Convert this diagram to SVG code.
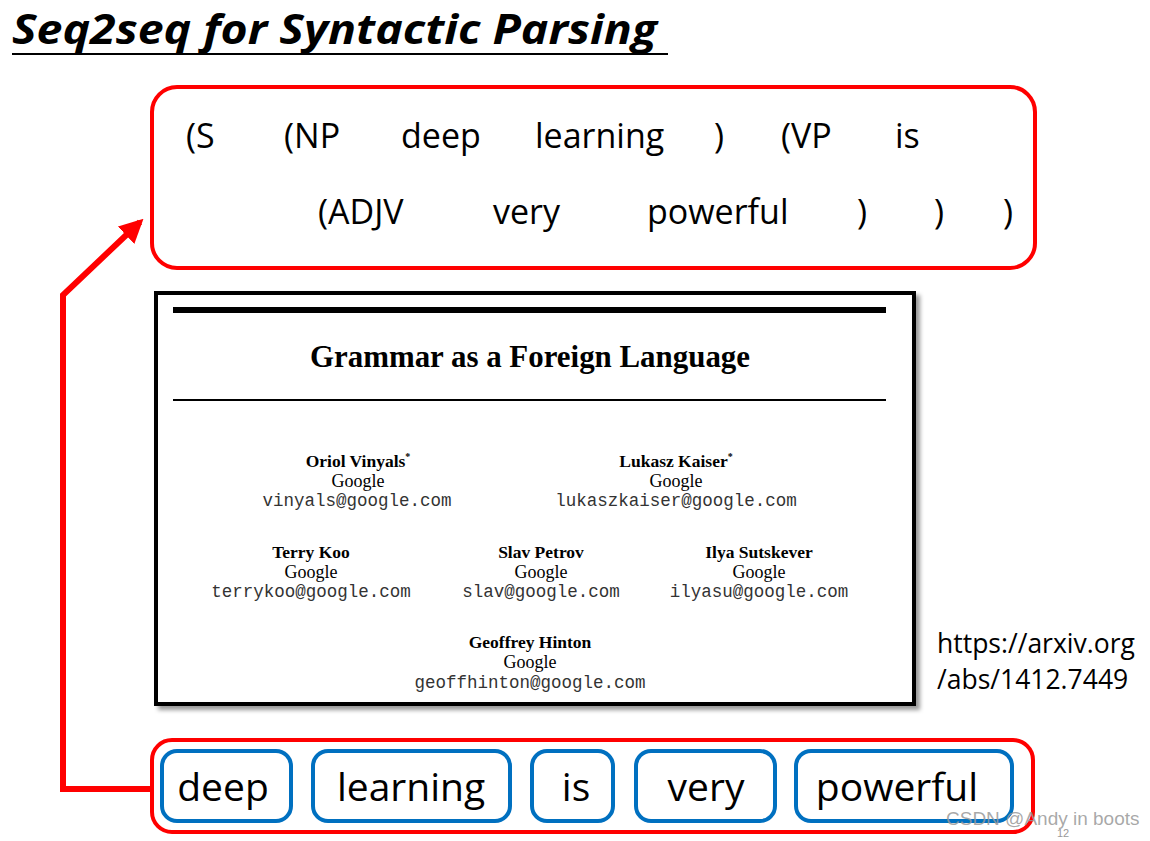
<svg xmlns="http://www.w3.org/2000/svg" width="1150" height="841" viewBox="0 0 1150 841">
<style>
.big{font-family:"Open Sans","Noto Sans",sans-serif;font-size:34px;fill:#000}
.word{font-family:"Open Sans","Noto Sans",sans-serif;font-size:39px;fill:#000}
.nm{font-family:"Liberation Serif",serif;font-size:17.5px;font-weight:bold;fill:#000;text-anchor:middle}
.gg{font-family:"Liberation Serif",serif;font-size:18px;fill:#000;text-anchor:middle}
.em{font-family:"Liberation Mono",monospace;font-size:17.5px;fill:#333;text-anchor:middle}
.wb{fill:#fff;stroke:#0070C0;stroke-width:4}
.rb{fill:#fff;stroke:#FF0000;stroke-width:4}
</style>
<defs>
<marker id="ah" viewBox="0 0 10 10" refX="8" refY="5" markerWidth="4" markerHeight="4" orient="auto" markerUnits="strokeWidth">
<path d="M0,0 L10,5 L0,10 z" fill="#FF0000"/>
</marker>
<filter id="sh" x="-5%" y="-5%" width="110%" height="110%">
<feDropShadow dx="4" dy="4" stdDeviation="2" flood-color="#000" flood-opacity="0.4"/>
</filter>
</defs>
<rect width="1150" height="841" fill="#fff"/>
<g id="title">
<text x="12" y="44" font-family="Open Sans,Noto Sans,sans-serif" font-size="42" font-weight="bold" font-style="italic" fill="#000" textLength="645" lengthAdjust="spacingAndGlyphs">Seq2seq for Syntactic Parsing</text>
<line x1="12" y1="54" x2="668" y2="54" stroke="#000" stroke-width="2"/>
</g>
<g id="connectors">
<polyline points="153,789 63,789 63,295 140,222" fill="none" stroke="#FF0000" stroke-width="6" marker-end="url(#ah)"/>
</g>
<g id="parse-output">
<rect class="rb" x="152" y="87" width="883" height="181" rx="25"/>
<text class="big" y="148"><tspan x="186">(S</tspan><tspan x="284">(NP</tspan><tspan x="401">deep</tspan><tspan x="535">learning</tspan><tspan x="714">)</tspan><tspan x="781">(VP</tspan><tspan x="895">is</tspan></text>
<text class="big" y="224"><tspan x="318">(ADJV</tspan><tspan x="493">very</tspan><tspan x="647">powerful</tspan><tspan x="857">)</tspan><tspan x="934">)</tspan><tspan x="1003">)</tspan></text>
</g>
<g id="paper">
<rect x="156" y="293" width="758" height="411" fill="#fff" stroke="#000" stroke-width="4" filter="url(#sh)"/>
<rect x="173" y="307" width="713" height="6" fill="#000"/>
<text x="310" y="367" font-family="Liberation Serif,serif" font-size="31" font-weight="bold" fill="#000" textLength="440" lengthAdjust="spacingAndGlyphs">Grammar as a Foreign Language</text>
<line x1="173" y1="400" x2="886" y2="400" stroke="#000" stroke-width="2"/>
<text class="nm" x="358" y="467">Oriol Vinyals<tspan font-size="10" dy="-7">*</tspan></text>
<text class="gg" x="358" y="487">Google</text>
<text class="em" x="357" y="506">vinyals@google.com</text>
<text class="nm" x="676" y="467">Lukasz Kaiser<tspan font-size="10" dy="-7">*</tspan></text>
<text class="gg" x="676" y="487">Google</text>
<text class="em" x="676" y="506">lukaszkaiser@google.com</text>
<text class="nm" x="311" y="558">Terry Koo</text>
<text class="gg" x="311" y="578">Google</text>
<text class="em" x="311" y="597">terrykoo@google.com</text>
<text class="nm" x="541" y="558">Slav Petrov</text>
<text class="gg" x="541" y="578">Google</text>
<text class="em" x="541" y="597">slav@google.com</text>
<text class="nm" x="759" y="558">Ilya Sutskever</text>
<text class="gg" x="759" y="578">Google</text>
<text class="em" x="759" y="597">ilyasu@google.com</text>
<text class="nm" x="530" y="648">Geoffrey Hinton</text>
<text class="gg" x="530" y="668">Google</text>
<text class="em" x="530" y="688">geoffhinton@google.com</text>
</g>
<g id="url">
<text x="937" y="653" font-family="Open Sans,Noto Sans,sans-serif" font-size="26.5" fill="#000">https://arxiv.org</text>
<text x="937" y="689" font-family="Open Sans,Noto Sans,sans-serif" font-size="26.5" fill="#000">/abs/1412.7449</text>
</g>
<g id="input-sequence">
<rect class="rb" x="152" y="740" width="881" height="92" rx="20"/>
</g>
<g id="w-deep"><rect class="wb" x="162" y="751" width="129" height="70" rx="15"/><text class="word" x="223" y="801" text-anchor="middle">deep</text></g>
<g id="w-learning"><rect class="wb" x="313" y="751" width="197" height="70" rx="15"/><text class="word" x="411" y="801" text-anchor="middle">learning</text></g>
<g id="w-is"><rect class="wb" x="532" y="751" width="81" height="70" rx="15"/><text class="word" x="576" y="801" text-anchor="middle">is</text></g>
<g id="w-very"><rect class="wb" x="636" y="751" width="139" height="70" rx="15"/><text class="word" x="706" y="801" text-anchor="middle">very</text></g>
<g id="w-powerful"><rect class="wb" x="796" y="751" width="216" height="70" rx="15"/><text class="word" x="897" y="801" text-anchor="middle">powerful</text></g>
<text x="946" y="825" font-family="Liberation Sans,sans-serif" font-size="19" fill="#999" fill-opacity="0.85">CSDN @Andy in boots</text>
<text x="1057" y="837" font-family="Liberation Sans,sans-serif" font-size="11" fill="#999">12</text>
</svg>
